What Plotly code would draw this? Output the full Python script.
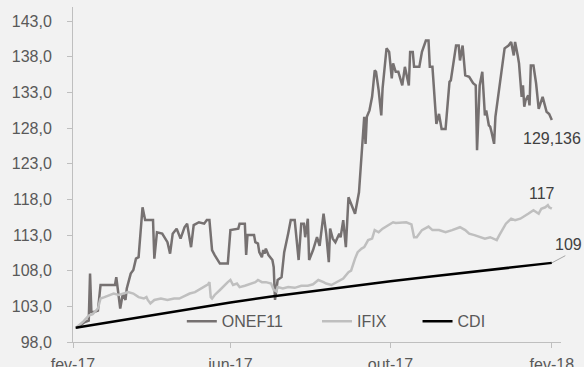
import plotly.graph_objects as go

# ---------------- data ----------------
onef_dates = [
    "2017-02-04", "2017-02-08", "2017-02-10", "2017-02-13", "2017-02-14", "2017-02-15", "2017-02-17",
    "2017-02-20", "2017-02-22", "2017-03-05", "2017-03-06", "2017-03-09", "2017-03-11", "2017-03-13",
    "2017-03-14", "2017-03-17", "2017-03-19", "2017-03-21", "2017-03-23", "2017-03-26", "2017-03-28",
    "2017-04-03", "2017-04-04", "2017-04-06", "2017-04-10", "2017-04-14", "2017-04-16", "2017-04-18",
    "2017-04-21", "2017-04-24", "2017-04-27", "2017-04-29", "2017-05-02", "2017-05-04", "2017-05-08",
    "2017-05-12", "2017-05-14", "2017-05-16", "2017-05-17", "2017-05-18", "2017-05-20", "2017-05-24",
    "2017-05-30", "2017-06-01", "2017-06-07", "2017-06-08", "2017-06-12", "2017-06-13", "2017-06-14",
    "2017-06-19", "2017-06-20", "2017-06-22", "2017-06-23", "2017-06-25", "2017-06-26", "2017-06-27",
    "2017-06-28", "2017-06-30", "2017-07-03", "2017-07-04", "2017-07-05", "2017-07-07", "2017-07-10",
    "2017-07-12", "2017-07-15", "2017-07-17", "2017-07-20", "2017-07-21", "2017-07-23", "2017-07-25",
    "2017-07-27", "2017-07-28", "2017-07-30", "2017-07-31", "2017-08-03", "2017-08-06", "2017-08-08",
    "2017-08-11", "2017-08-13", "2017-08-15", "2017-08-16", "2017-08-18", "2017-08-20", "2017-08-23",
    "2017-08-24", "2017-08-26", "2017-08-28", "2017-08-30", "2017-09-01", "2017-09-04", "2017-09-07",
    "2017-09-09", "2017-09-11", "2017-09-12", "2017-09-13", "2017-09-15", "2017-09-17", "2017-09-19",
    "2017-09-20", "2017-09-22", "2017-09-24", "2017-09-25", "2017-09-28", "2017-09-30", "2017-10-02",
    "2017-10-03", "2017-10-05", "2017-10-07", "2017-10-10", "2017-10-12", "2017-10-15", "2017-10-16",
    "2017-10-18", "2017-10-19", "2017-10-23", "2017-10-25", "2017-10-28", "2017-10-30", "2017-10-31",
    "2017-11-02", "2017-11-05", "2017-11-07", "2017-11-09", "2017-11-12", "2017-11-15", "2017-11-16",
    "2017-11-20", "2017-11-22", "2017-11-23", "2017-11-25", "2017-11-27", "2017-11-30", "2017-12-03",
    "2017-12-05", "2017-12-06", "2017-12-08", "2017-12-10", "2017-12-12", "2017-12-13", "2017-12-15",
    "2017-12-16", "2017-12-17", "2017-12-19", "2017-12-20", "2017-12-22", "2017-12-25", "2017-12-27",
    "2017-12-30", "2018-01-01", "2018-01-03", "2018-01-04", "2018-01-06", "2018-01-07", "2018-01-09",
    "2018-01-10", "2018-01-11", "2018-01-12", "2018-01-14", "2018-01-15", "2018-01-16", "2018-01-18",
    "2018-01-20", "2018-01-22", "2018-01-25", "2018-01-27", "2018-01-28", "2018-01-30", "2018-02-01",
]
onef_values = [
    100.0, 100.6, 100.8, 101.0, 107.6, 102.2, 102.2,
    102.4, 106.0, 106.0, 107.1, 102.7, 104.8, 103.9,
    105.5, 107.6, 108.1, 109.7, 109.9, 116.9, 115.1,
    115.1, 109.7, 113.4, 113.2, 112.0, 110.4, 113.2,
    113.9, 112.5, 114.1, 114.6, 111.3, 114.4, 114.8,
    114.6, 115.1, 115.1, 113.2, 110.9, 110.2, 109.0,
    109.0, 113.7, 113.9, 114.6, 114.6, 110.2, 113.0,
    113.0, 112.0, 111.8, 110.6, 109.9, 110.9, 110.4,
    111.1, 110.2, 109.5, 108.5, 103.9, 106.7, 107.1,
    110.6, 113.2, 115.1, 115.1, 113.2, 109.5, 114.6,
    114.6, 112.7, 115.3, 109.5, 110.9, 112.7, 111.5,
    116.0, 113.2, 109.2, 113.9, 112.5, 112.0, 113.2,
    112.7, 115.1, 111.3, 118.3, 117.4, 116.0, 119.0,
    124.4, 129.6, 125.8, 129.6, 130.5, 132.4, 136.1,
    135.9, 133.3, 129.8, 133.6, 139.2, 138.7, 135.0,
    137.1, 135.9, 135.9, 134.0, 136.6, 134.0, 138.7,
    138.7, 136.6, 136.6, 138.7, 140.3, 140.3, 136.6,
    136.6, 128.6, 130.0, 127.9, 127.9, 134.5, 134.7,
    139.6, 139.6, 137.5, 139.6, 135.4, 135.2, 134.3,
    134.0, 124.9, 134.0, 135.9, 129.8, 130.5, 128.4,
    128.2, 127.5, 125.8, 129.6, 132.4, 135.9, 139.2,
    139.6, 140.1, 138.2, 140.1, 138.2, 137.1, 132.4,
    134.0, 131.0, 131.9, 132.6, 131.2, 136.8, 136.8,
    134.3, 130.7, 132.4, 131.2, 130.3, 130.0, 129.136,
]

ifix_dates = [
    "2017-02-04", "2017-02-09", "2017-02-13", "2017-02-16", "2017-02-20", "2017-02-22", "2017-02-25",
    "2017-03-01", "2017-03-04", "2017-03-08", "2017-03-11", "2017-03-15", "2017-03-19", "2017-03-23",
    "2017-03-27", "2017-03-29", "2017-03-30", "2017-04-01", "2017-04-04", "2017-04-09", "2017-04-14",
    "2017-04-19", "2017-04-23", "2017-04-26", "2017-05-01", "2017-05-05", "2017-05-09", "2017-05-12",
    "2017-05-15", "2017-05-16", "2017-05-17", "2017-05-18", "2017-05-20", "2017-05-24", "2017-05-26",
    "2017-05-30", "2017-06-01", "2017-06-03", "2017-06-06", "2017-06-08", "2017-06-12", "2017-06-16",
    "2017-06-20", "2017-06-22", "2017-06-25", "2017-06-28", "2017-07-02", "2017-07-04", "2017-07-06",
    "2017-07-07", "2017-07-11", "2017-07-15", "2017-07-20", "2017-07-25", "2017-07-30", "2017-08-03",
    "2017-08-07", "2017-08-11", "2017-08-13", "2017-08-17", "2017-08-21", "2017-08-26", "2017-08-30",
    "2017-09-01", "2017-09-04", "2017-09-06", "2017-09-09", "2017-09-11", "2017-09-14", "2017-09-17",
    "2017-09-19", "2017-09-22", "2017-09-25", "2017-09-30", "2017-10-03", "2017-10-05", "2017-10-09",
    "2017-10-13", "2017-10-17", "2017-10-19", "2017-10-21", "2017-10-25", "2017-10-30", "2017-11-02",
    "2017-11-07", "2017-11-12", "2017-11-17", "2017-11-23", "2017-11-27", "2017-11-30", "2017-12-04",
    "2017-12-08", "2017-12-12", "2017-12-16", "2017-12-18", "2017-12-21", "2017-12-23", "2017-12-26",
    "2017-12-28", "2018-01-01", "2018-01-04", "2018-01-08", "2018-01-10", "2018-01-14", "2018-01-18",
    "2018-01-22", "2018-01-24", "2018-01-27", "2018-01-29", "2018-01-30", "2018-02-01",
]
ifix_values = [
    100.1, 100.9, 101.7, 101.9, 102.7, 104.1, 104.3,
    104.6, 104.8, 104.6, 104.8, 105.0, 104.8, 104.3,
    104.1, 104.3, 103.9, 103.4, 103.9, 104.1, 103.9,
    104.1, 104.1, 104.4, 104.8, 105.0, 105.4, 105.7,
    106.1, 106.4, 104.3, 104.1, 104.6, 105.3, 105.7,
    106.4, 106.7, 106.0, 106.2, 105.7, 105.9, 106.2,
    106.4, 106.7, 106.4, 106.4, 106.2, 105.3, 105.1,
    105.7, 105.5, 105.7, 105.6, 105.9, 105.9, 106.1,
    106.7, 106.4, 106.2, 106.0, 106.4, 106.9, 107.8,
    108.0, 109.7, 110.6, 111.1, 111.3, 112.3, 112.5,
    113.7, 113.4, 113.9, 114.4, 114.8, 114.7, 114.8,
    114.8, 114.5, 112.7, 112.7, 113.7, 114.2, 113.7,
    113.7, 113.4, 113.7, 114.1, 113.7, 113.2, 113.0,
    112.7, 112.5, 112.7, 112.5, 112.3, 113.0, 114.1,
    114.6, 115.3, 115.1, 115.3, 115.5, 116.0, 116.5,
    116.0, 116.7, 116.9, 117.2, 116.9, 116.7,
]

cdi_dates = [
    "2017-02-03", "2017-03-01", "2017-04-01", "2017-05-01", "2017-06-01", "2017-07-01", "2017-08-01",
    "2017-09-01", "2017-10-01", "2017-11-01", "2017-12-01", "2018-01-01", "2018-02-01",
]
cdi_values = [100.0, 100.8, 101.77, 102.64, 103.54, 104.35, 105.1, 105.87, 106.53, 107.18, 107.78, 108.4, 109.1]

tick_dates = ["2017-02-01", "2017-06-01", "2017-10-01", "2018-02-01"]
tick_labels = ["fev-17", "jun-17", "out-17", "fev-18"]

end_labels = ["129,136", "117", "109"]

# ---------------- style ----------------
FONT = "Liberation Sans, Arial, sans-serif"
TXT = "#595959"
AXIS = "#BFBFBF"
C_ONEF = "#767171"
C_IFIX = "#BFBFBF"
C_CDI = "#000000"

fig = go.Figure()
fig.add_trace(go.Scatter(x=onef_dates, y=onef_values, name="ONEF11", mode="lines",
                         line=dict(color=C_ONEF, width=2.5), legend="legend"))
fig.add_trace(go.Scatter(x=ifix_dates, y=ifix_values, name="IFIX", mode="lines",
                         line=dict(color=C_IFIX, width=2.5), legend="legend2"))
fig.add_trace(go.Scatter(x=cdi_dates, y=cdi_values, name="CDI", mode="lines",
                         line=dict(color=C_CDI, width=2.5), legend="legend3"))

# end-value labels
fig.add_annotation(x=onef_dates[-1], y=onef_values[-1], text=end_labels[0], showarrow=False,
                   xshift=0, yshift=-18, font=dict(size=16, color="#404040", family=FONT))
fig.add_annotation(x=ifix_dates[-1], y=ifix_values[-1], text=end_labels[1], showarrow=False,
                   xshift=-10, yshift=15, font=dict(size=16, color="#404040", family=FONT))
fig.add_annotation(x=cdi_dates[-1], y=cdi_values[-1], text="", showarrow=True, arrowhead=0,
                   arrowwidth=1, arrowcolor="#A6A6A6", ax=15, ay=-8, standoff=0, startstandoff=0)
fig.add_annotation(x=cdi_dates[-1], y=cdi_values[-1], text=end_labels[2], showarrow=False,
                   xshift=17, yshift=18, font=dict(size=16, color="#404040", family=FONT))

leg_common = dict(orientation="h", yanchor="middle", y=0.062, xanchor="left",
                  bgcolor="rgba(0,0,0,0)", font=dict(size=16, color=TXT, family=FONT),
                  itemwidth=30, tracegroupgap=0)

fig.update_layout(
    width=584, height=367,
    margin=dict(l=73, r=23, t=7, b=25, autoexpand=False),
    paper_bgcolor="#F2F2F2", plot_bgcolor="#F2F2F2",
    font=dict(family=FONT, size=16, color=TXT),
    separators=",.",
    showlegend=True,
    legend=dict(x=0.223, **leg_common),
    legend2=dict(x=0.500, **leg_common),
    legend3=dict(x=0.706, **leg_common),
    xaxis=dict(type="date", range=["2017-02-01", "2018-02-08"],
               tickvals=tick_dates, ticktext=tick_labels,
               showgrid=False, zeroline=False, showline=True, linecolor=AXIS, linewidth=1,
               ticks="outside", ticklen=5, tickcolor=AXIS, tickwidth=1,
               ticklabelstandoff=3, automargin=False,
               tickfont=dict(size=16, color=TXT, family=FONT)),
    yaxis=dict(range=[98, 145], tick0=98, dtick=5, tickformat=".1f",
               showgrid=False, zeroline=False, showline=True, linecolor=AXIS, linewidth=1,
               ticks="outside", ticklen=5, tickcolor=AXIS, tickwidth=1,
               ticklabelstandoff=12, automargin=False,
               tickfont=dict(size=16, color=TXT, family=FONT)),
)

fig.write_html("out.html")
